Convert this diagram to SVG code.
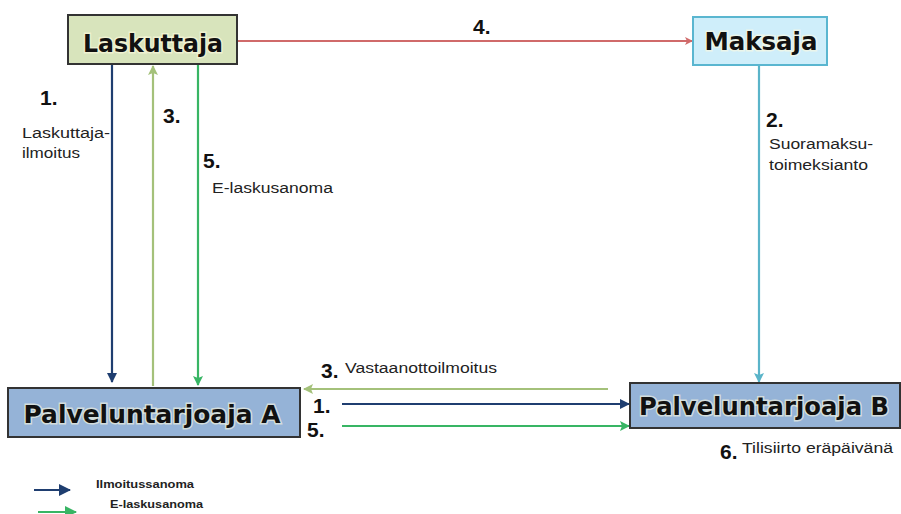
<svg xmlns="http://www.w3.org/2000/svg" width="901" height="514" viewBox="0 0 901 514">
<style>
.node{font-family:"DejaVu Sans",Verdana,sans-serif;font-weight:bold;font-size:25px;fill:#111;stroke:#fffbe0;stroke-width:3;stroke-opacity:0.6;paint-order:stroke}
.num{font-family:"Liberation Sans",Arial,sans-serif;font-weight:bold;font-size:21px;fill:#111}
.lbl{font-family:"Liberation Sans",Arial,sans-serif;font-size:14px;fill:#222}
.leg{font-family:"Liberation Sans",Arial,sans-serif;font-weight:bold;font-size:10px;fill:#222}
.c{fill:none;stroke-width:2.2}
</style>
<defs>
<marker id="mRed" markerWidth="8" markerHeight="8" refX="7" refY="4" orient="auto" markerUnits="userSpaceOnUse"><path d="M0,0 L8,4 L0,8 L2,4 Z" fill="#d06a6a"/></marker>
<marker id="mBlue" markerWidth="10" markerHeight="10" refX="9" refY="5" orient="auto" markerUnits="userSpaceOnUse"><path d="M0,0 L10,5 L0,10 Z" fill="#1f3e70"/></marker>
<marker id="mOlive" markerWidth="10" markerHeight="10" refX="9" refY="5" orient="auto" markerUnits="userSpaceOnUse"><path d="M0,0 L10,5 L0,10 L2,5 Z" fill="#a4c17a"/></marker>
<marker id="mGreen" markerWidth="10" markerHeight="10" refX="9" refY="5" orient="auto" markerUnits="userSpaceOnUse"><path d="M0,0 L10,5 L0,10 L2,5 Z" fill="#38b564"/></marker>
<marker id="mCyan" markerWidth="10" markerHeight="10" refX="9" refY="5" orient="auto" markerUnits="userSpaceOnUse"><path d="M0,0 L10,5 L0,10 L2,5 Z" fill="#5ab4c9"/></marker>
<marker id="mBlueL" markerWidth="12" markerHeight="12" refX="11" refY="6" orient="auto" markerUnits="userSpaceOnUse"><path d="M0,0 L12,6 L0,12 Z" fill="#1f3e70"/></marker>
<marker id="mGreenL" markerWidth="12" markerHeight="12" refX="11" refY="6" orient="auto" markerUnits="userSpaceOnUse"><path d="M0,0 L12,6 L0,12 Z" fill="#38b564"/></marker>
</defs>
<rect width="901" height="514" fill="#ffffff"/>

<g id="connectors">
<line class="c" x1="237" y1="41" x2="692" y2="41" stroke="#d06a6a" marker-end="url(#mRed)"/>
<line class="c" x1="112" y1="64" x2="112" y2="382" stroke="#1f3e70" marker-end="url(#mBlue)"/>
<line class="c" x1="153" y1="386" x2="153" y2="66" stroke="#a4c17a" marker-end="url(#mOlive)"/>
<line class="c" x1="198" y1="64" x2="198" y2="385" stroke="#38b564" marker-end="url(#mGreen)"/>
<line class="c" x1="759" y1="66" x2="759" y2="382" stroke="#5ab4c9" marker-end="url(#mCyan)"/>
<line class="c" x1="608" y1="389" x2="304" y2="389" stroke="#a4c17a" marker-end="url(#mOlive)"/>
<line class="c" x1="342" y1="404" x2="629" y2="404" stroke="#1f3e70" marker-end="url(#mBlue)"/>
<line class="c" x1="342" y1="426" x2="629" y2="426" stroke="#38b564" marker-end="url(#mGreen)"/>
<line class="c" x1="34" y1="490" x2="70" y2="490" stroke="#1f3e70" stroke-width="3.5" marker-end="url(#mBlueL)"/>
<line class="c" x1="38" y1="512" x2="76" y2="512" stroke="#38b564" stroke-width="3.5" marker-end="url(#mGreenL)"/>
</g>

<g id="laskuttaja">
<rect x="68" y="15" width="169" height="49" fill="#d8e4bc" stroke="#333" stroke-width="2"/>
<text class="node" x="153" y="52" text-anchor="middle" textLength="140" lengthAdjust="spacingAndGlyphs">Laskuttaja</text>
</g>
<g id="maksaja">
<rect x="693" y="17" width="134" height="48" fill="#cfeefa" stroke="#5ab6d0" stroke-width="2"/>
<text class="node" x="761" y="50" text-anchor="middle" textLength="113" lengthAdjust="spacingAndGlyphs">Maksaja</text>
</g>
<g id="palveluntarjoaja-a">
<rect x="8" y="388" width="292" height="49" fill="#95b3d7" stroke="#333" stroke-width="2"/>
<text class="node" x="152" y="423" text-anchor="middle" textLength="257" lengthAdjust="spacingAndGlyphs">Palveluntarjoaja A</text>
</g>
<g id="palveluntarjoaja-b">
<rect x="630" y="383" width="270" height="45" fill="#95b3d7" stroke="#333" stroke-width="2"/>
<text class="node" x="764" y="415" text-anchor="middle" textLength="250" lengthAdjust="spacingAndGlyphs">Palveluntarjoaja B</text>
</g>

<g id="labels">
<text class="num" x="40" y="105">1.</text>
<text class="lbl" x="22" y="138" textLength="88" lengthAdjust="spacingAndGlyphs">Laskuttaja-</text>
<text class="lbl" x="22" y="158" textLength="58" lengthAdjust="spacingAndGlyphs">ilmoitus</text>
<text class="num" x="163" y="123">3.</text>
<text class="num" x="203" y="168">5.</text>
<text class="lbl" x="212" y="193" textLength="121" lengthAdjust="spacingAndGlyphs">E-laskusanoma</text>
<text class="num" x="473" y="34">4.</text>
<text class="num" x="766" y="127">2.</text>
<text class="lbl" x="769" y="149" textLength="104" lengthAdjust="spacingAndGlyphs">Suoramaksu-</text>
<text class="lbl" x="769" y="170" textLength="99" lengthAdjust="spacingAndGlyphs">toimeksianto</text>
<text class="num" x="321" y="378">3.</text>
<text class="lbl" x="345" y="373" textLength="152" lengthAdjust="spacingAndGlyphs">Vastaanottoilmoitus</text>
<text class="num" x="313" y="413">1.</text>
<text class="num" x="307" y="437">5.</text>
<text class="num" x="720" y="459">6.</text>
<text class="lbl" x="742" y="453" textLength="151" lengthAdjust="spacingAndGlyphs">Tilisiirto eräpäivänä</text>
<text class="leg" x="96" y="488" textLength="98" lengthAdjust="spacingAndGlyphs">Ilmoitussanoma</text>
<text class="leg" x="110" y="508" textLength="93" lengthAdjust="spacingAndGlyphs">E-laskusanoma</text>
</g>
</svg>
